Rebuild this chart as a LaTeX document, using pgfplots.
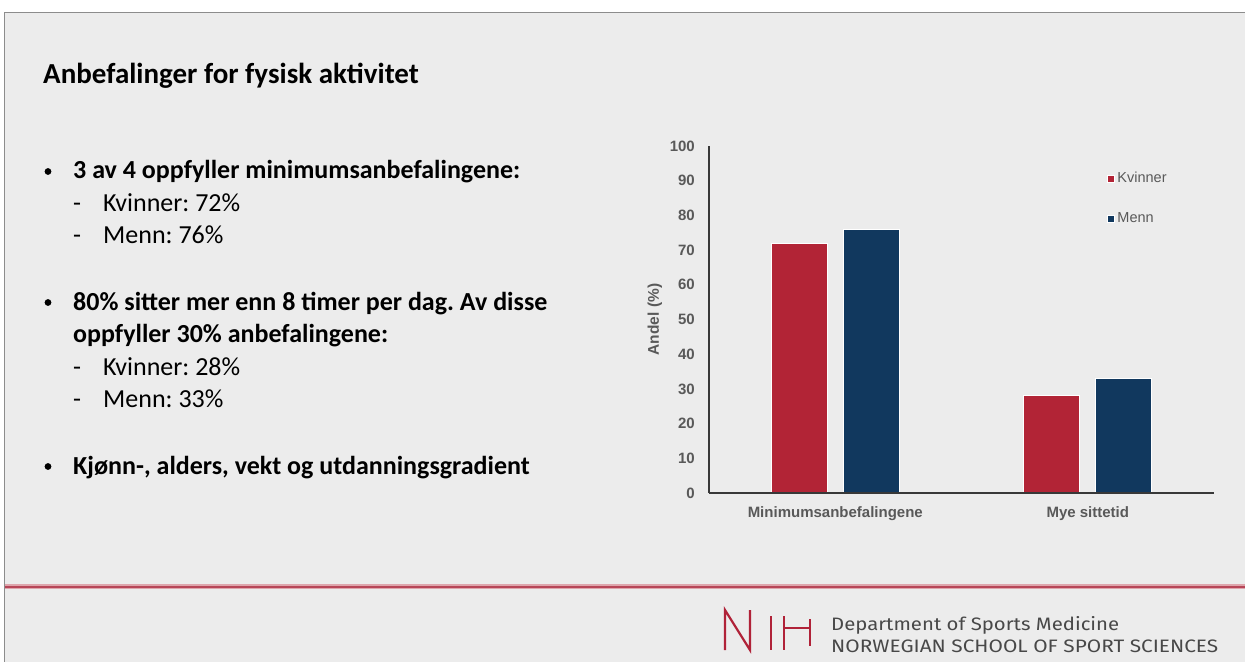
\documentclass[border=0pt]{standalone}
\usepackage{pgfplots}
\pgfplotsset{compat=1.18}
\usepackage{fontspec}
\usepackage{graphicx}
\setmainfont{Carlito}
\newfontfamily\arialf{Liberation Sans}
\newfontfamily\footf{Fira Sans}
\definecolor{bg}{RGB}{236,236,236}
\definecolor{kred}{RGB}{178,36,54}
\definecolor{mblue}{RGB}{17,56,94}
\definecolor{tgray}{RGB}{89,89,89}
\definecolor{nihred}{RGB}{176,34,56}
\definecolor{linehalo}{RGB}{222,165,172}
\definecolor{linecore}{RGB}{183,70,88}
\definecolor{bordergray}{RGB}{140,140,140}
\definecolor{foottext}{RGB}{72,72,72}
\frenchspacing

\begin{document}
\begin{tikzpicture}
\begin{scope}[x=1bp,y=-1bp]
\useasboundingbox (0,0) rectangle (1245,662);
\fill[white] (0,0) rectangle (1245,662);
\fill[bg] (4.5,12.5) rectangle (1250,670);
\draw[bordergray, line width=1.5bp] (4.5,670) -- (4.5,12.5) -- (1250,12.5);

% title
\node[anchor=base west, inner sep=0pt, font=\fontsize{29bp}{34bp}\selectfont\bfseries] at (43,84) {Anbefalinger for fysisk aktivitet};

% bullets
\begin{scope}[every node/.style={anchor=base west, inner sep=0pt, font=\fontsize{26bp}{31bp}\selectfont}]
\fill (48,171.5) circle (3.4bp);
\node[font=\fontsize{26bp}{31bp}\selectfont\bfseries] at (73,179) {3 av 4 oppfyller minimumsanbefalingene:};
\node at (73,211.5) {-};
\node at (103,211.5) {Kvinner: 72\%};
\node at (73,244) {-};
\node at (103,244) {Menn: 76\%};

\fill (48,302.5) circle (3.4bp);
\node[font=\fontsize{26bp}{31bp}\selectfont\bfseries] at (73,310) {80\% sitter mer enn 8 timer per dag. Av disse};
\node[font=\fontsize{26bp}{31bp}\selectfont\bfseries] at (73,342) {oppfyller 30\% anbefalingene:};
\node at (73,375) {-};
\node at (103,375) {Kvinner: 28\%};
\node at (73,407) {-};
\node at (103,407) {Menn: 33\%};

\fill (48,466.5) circle (3.4bp);
\node[font=\fontsize{26bp}{31bp}\selectfont\bfseries] at (73,474) {Kjønn-, alders, vekt og utdanningsgradient};
\end{scope}

% footer line
\draw[linehalo, line width=4.5bp] (5,586.7) -- (1250,586.7);
\draw[linecore, line width=1.8bp] (5,586.7) -- (1250,586.7);

% NIH logo
\draw[nihred, line width=2.2bp, line cap=butt, line join=miter]
  (725,650) -- (725,610) -- (750,650) -- (750,610);
\draw[nihred, line width=2.2bp] (771,616) -- (771,650);
\draw[nihred, line width=2.2bp] (784,616) -- (784,650);
\draw[nihred, line width=2.2bp] (784,628) -- (810,628);
\draw[nihred, line width=2.2bp] (810,619) -- (810,646);

\node[anchor=base west, inner sep=0pt, text=foottext, font=\footf\fontsize{18bp}{20bp}\selectfont] at (831,630) {\resizebox{288bp}{\height}{Department of Sports Medicine}};
\node[anchor=base west, inner sep=0pt, text=foottext, font=\footf\fontsize{18bp}{20bp}\selectfont] at (831,652) {\resizebox{387bp}{\height}{NORWEGIAN SCHOOL OF SPORT SCIENCES}};
\end{scope}

\begin{axis}[
  at={(709bp,-493bp)}, anchor=south west,
  scale only axis, width=505bp, height=347bp,
  xmin=-0.5, xmax=1.5, ymin=0, ymax=100,
  ybar=16bp, bar width=56bp,
  axis x line*=bottom, axis y line*=left,
  axis line style={line width=1.6bp, color=black!78, -},
  xtick={0,1}, xticklabels={Minimumsanbefalingene, Mye sittetid},
  ytick={0,10,...,100},
  major tick length=0pt,
  /pgf/number format/assume math mode=true,
  tick label style={font=\arialf\bfseries\fontsize{15bp}{17bp}\selectfont, text=tgray},
  yticklabel style={anchor=east, inner sep=0pt, xshift=-14bp},
  xticklabel style={anchor=north, inner sep=0pt, yshift=-13bp},
  ylabel={Andel (\%)},
  ylabel style={font=\arialf\bfseries\fontsize{15.5bp}{17bp}\selectfont, text=tgray, at={(axis description cs:-0.107,0.5)}, anchor=center},
  axis on top,
  legend style={at={(0.787,0.925)}, anchor=north west, draw=none, fill=none, inner sep=0pt,
    row sep=27bp, column sep=3bp,
    font=\arialf\fontsize{14.5bp}{16bp}\selectfont, text=tgray,
    nodes={inner sep=0pt, text height=10.5bp, text depth=2.5bp}},
  legend cell align=left,
  legend image code/.code={\fill[#1] (0bp,-3.5bp) rectangle (7bp,3.5bp);},
]
\addplot[fill=kred, draw=white, line width=0.8bp] coordinates {(0,72) (1,28)};
\addplot[fill=mblue, draw=white, line width=0.8bp] coordinates {(0,76) (1,33)};
\legend{Kvinner, Menn}
\end{axis}
\end{tikzpicture}
\end{document}
